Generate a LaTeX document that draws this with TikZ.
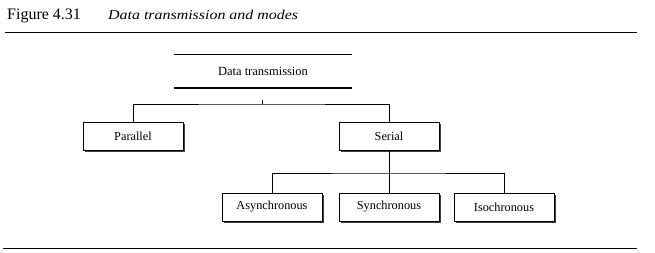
\documentclass[tikz,border=0pt]{standalone}
\usepackage{fontspec}
\setmainfont{Liberation Serif}
\newfontfamily\captionface[FakeStretch=1.18]{Liberation Serif}
\usetikzlibrary{shadows}
\begin{document}
\begin{tikzpicture}[x=1pt,y=-1pt,
  box/.style={draw=black, line width=0.6pt, fill=white,
    minimum width=100pt, minimum height=28pt, inner sep=0pt,
    font=\fontsize{12.3}{14}\selectfont,
    drop shadow={shadow xshift=2.2pt, shadow yshift=-2.2pt, fill=black!75, opacity=1}},
  link/.style={draw=black, line width=0.7pt},
  rule/.style={draw=black, line width=1pt}]
\useasboundingbox (0,0) rectangle (655,253);

% caption
\node[anchor=base west, inner sep=0pt, font=\fontsize{16}{18}\selectfont] (fig) at (7,20) {Figure 4.31};
\node[anchor=base west, inner sep=0pt, font=\captionface\fontsize{13.5}{15}\selectfont\itshape] (cap) at (108,20) {Data transmission and modes};
\draw[rule] (5,33) -- (637,33);
\draw[rule] (3,249) -- (637,249);

% root heading between two rules
\node[inner sep=0pt, minimum width=178pt, minimum height=33pt, font=\fontsize{12.5}{14}\selectfont] (dt) at (263,71.5) {Data transmission};
\draw[line width=1pt] (dt.north west) -- (dt.north east);
\draw[line width=2.6pt] (dt.south west) -- (dt.south east);

% first level
\node[box] (par) at (133,136) {Parallel};
\node[box] (ser) at (389,136) {Serial};
\coordinate (hub) at (262,104);
\draw[link] (hub) -- ++(0,-3.5);
\draw[link] (par.north) |- (hub) -| (ser.north);

% second level
\node[box] (asy) at (272,207) {Asynchronous};
\node[box] (syn) at (389,207) {Synchronous};
\node[box] (iso) at (504,207) {Isochronous};
\coordinate (hub2) at (389,173);
\draw[link] (ser.south) -- (hub2);
\draw[link] (asy.north) |- (hub2) -| (iso.north);
\draw[link] (hub2) -- (syn.north);
\end{tikzpicture}
\end{document}
